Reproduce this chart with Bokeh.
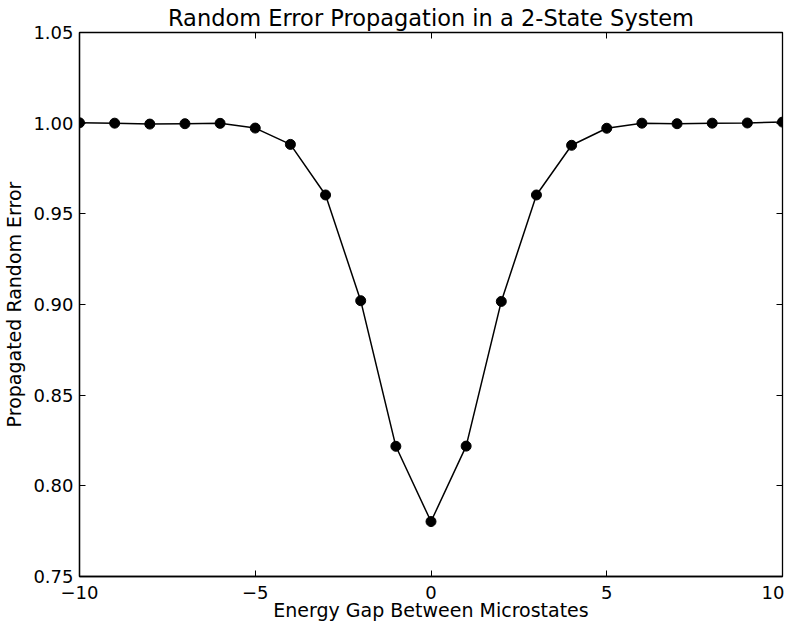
from bokeh.plotting import figure
from bokeh.models import LinearAxis, FixedTicker, Range1d
from bokeh.embed import file_html
from bokeh.resources import INLINE

energy_gap = list(range(-10, 11))
propagated_error = [1.0002, 1.0000, 0.9995, 0.9997, 0.9999, 0.9973, 0.9883, 0.9604, 0.9021,
                    0.8218, 0.7803, 0.8219, 0.9017, 0.9604, 0.9878, 0.9972, 1.0000, 0.9997,
                    1.0000, 1.0001, 1.0006]
x_ticks = [-10, -5, 0, 5, 10]
x_tick_labels = {-10: "\u221210", -5: "\u22125", 0: "0", 5: "5", 10: "10"}
y_ticks = [0.75, 0.80, 0.85, 0.90, 0.95, 1.00, 1.05]
y_tick_labels = {v: f"{v:.2f}" for v in y_ticks}

FONT = "DejaVu Sans"

p = figure(width=784, height=623, output_backend="svg", toolbar_location=None,
           x_range=Range1d(-10, 10), y_range=Range1d(0.75, 1.05),
           min_border_left=72, min_border_right=2, min_border_top=25, min_border_bottom=40,
           x_axis_label="Energy Gap Between Microstates",
           y_axis_label="Propagated Random Error")
p.title.text = "Random Error Propagation in a 2-State System"
p.title.align = "center"
p.title.text_font = FONT
p.title.text_font_size = "22.5px"
p.title.text_font_style = "normal"
p.title.text_color = "black"
p.title.standoff = 4

p.grid.visible = False
p.outline_line_color = "black"
p.outline_line_width = 1.3
p.outline_line_alpha = 1.0
p.background_fill_color = "white"
p.border_fill_color = "white"

for ax in p.xaxis + p.yaxis:
    ax.major_label_text_font = FONT
    ax.major_label_text_font_size = "18px"
    ax.major_label_text_color = "black"
    ax.axis_label_text_font = FONT
    ax.axis_label_text_font_size = "19px"
    ax.axis_label_text_font_style = "normal"
    ax.axis_label_text_color = "black"
    ax.major_tick_in = 6
    ax.major_tick_out = 0
    ax.minor_tick_line_color = None
    ax.axis_line_color = "black"
    ax.axis_line_width = 1.3
    ax.major_tick_line_color = "black"

p.xaxis.ticker = FixedTicker(ticks=x_ticks)
p.xaxis.major_label_overrides = x_tick_labels
p.xaxis.major_label_standoff = 9
p.xaxis.axis_label_standoff = -3
p.yaxis.ticker = FixedTicker(ticks=y_ticks)
p.yaxis.major_label_overrides = y_tick_labels
p.yaxis.major_label_standoff = 6
p.yaxis.axis_label_standoff = 5

top = LinearAxis(ticker=FixedTicker(ticks=x_ticks),
                 major_label_overrides={t: "" for t in x_ticks},
                 major_tick_in=6, major_tick_out=0, minor_tick_line_color=None,
                 axis_line_color="black", major_label_standoff=0)
right = LinearAxis(ticker=FixedTicker(ticks=y_ticks),
                   major_label_overrides={t: "" for t in y_ticks},
                   major_tick_in=6, major_tick_out=0, minor_tick_line_color=None,
                   axis_line_color="black", major_label_standoff=0)
p.add_layout(top, "above")
p.add_layout(right, "right")

p.line(energy_gap, propagated_error, line_color="black", line_width=1.5)
p.scatter(energy_gap, propagated_error, size=10, fill_color="black", line_color="black")

open("out.html", "w").write(file_html(p, INLINE))
